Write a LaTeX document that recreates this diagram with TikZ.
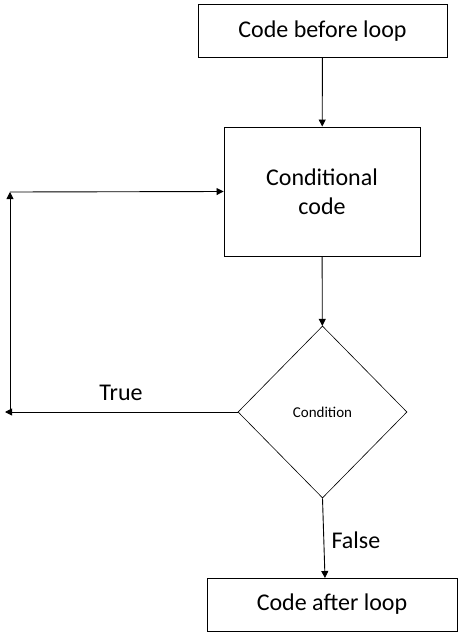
\documentclass[tikz,border=0pt]{standalone}
\usepackage{fontspec}
\setmainfont{Carlito}
\usetikzlibrary{positioning, arrows.meta, shapes.geometric}

\begin{document}
\begin{tikzpicture}[
    x=1pt, y=-1pt,
    % Estilos para los nodos
    bloque/.style={draw, line width=0.9pt, inner sep=0pt},
    decision/.style={diamond, draw, line width=0.6pt, inner sep=0pt, aspect=0.98},
    flecha/.style={line width=0.9pt, -{Triangle[length=7pt, width=7pt]}},
    grande/.style={font=\fontsize{24}{28.5}\selectfont}
    ]

    % Marco de la imagen
    \useasboundingbox (0,0) rectangle (466,635);

    % Bloques
    \node[bloque, grande, minimum width=249pt, minimum height=53pt] (antes) at (322.5,31) {Code before loop};
    \node[bloque, grande, minimum width=196pt, minimum height=129pt, align=center] (cuerpo) at (322,191.5) {Conditional\\code};
    \node[decision, minimum width=169pt, minimum height=172pt, font=\fontsize{15}{18}\selectfont] (cond) at (322.5,412) {Condition};
    \node[bloque, grande, minimum width=250pt, minimum height=53pt] (despues) at (332,604.5) {Code after loop};

    % Puntos del lazo
    \coordinate (izq) at (5,412);
    \coordinate (base) at (10,410);
    \coordinate (cima) at (10,192);
    \coordinate (llegada) at (325,578);

    % Conexiones
    \draw[flecha] (antes) -- (cuerpo);
    \draw[flecha] (cuerpo) -- (cond);
    \draw[flecha] (cond.west) -- (izq);
    \draw[flecha] (base) -- (cima);
    \draw[flecha] (cima) -- (cuerpo.west);
    \draw[flecha] (cond.south) -- (llegada);

    % Etiquetas
    \node[grande] (verdad) at (121,393) {True};
    \node[grande, anchor=west] (falso) at (328,540) {False};

\end{tikzpicture}
\end{document}
